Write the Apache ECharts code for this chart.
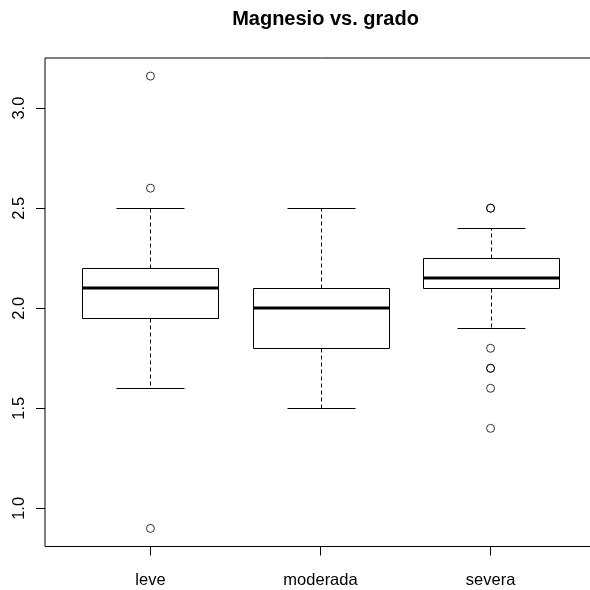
<!DOCTYPE html>
<html>
<head>
<meta charset="utf-8">
<style>
  html, body { margin: 0; padding: 0; background: #fff; overflow: hidden; }
  #chart { width: 600px; height: 590px; }
</style>
<script src="https://cdn.jsdelivr.net/npm/echarts@6/dist/echarts.min.js"></script>
</head>
<body>
<div id="chart"></div>
<script>
// Magnesium level by severity grade: five-number summaries and outliers
const categories = ['leve', 'moderada', 'severa'];
const whiskerLow = [1.6, 1.5, 1.9];
const q1 = [1.95, 1.8, 2.1];
const median = [2.1, 2.0, 2.15];
const q3 = [2.2, 2.1, 2.25];
const whiskerHigh = [2.5, 2.5, 2.4];
const outliers = [
  [3.16, 2.6, 0.9],
  [],
  [2.5, 2.5, 1.8, 1.7, 1.7, 1.6, 1.4]
];
const yTicks = [1.0, 1.5, 2.0, 2.5, 3.0];
const xTicks = [1, 2, 3];

const boxWidth = 0.8;      // in category units
const stapleWidth = 0.4;

const boxData = categories.map((c, i) => [i + 1, whiskerLow[i], q1[i], median[i], q3[i], whiskerHigh[i]]);
const outlierData = [];
outliers.forEach((vals, i) => vals.forEach(v => outlierData.push([i + 1, v])));

const chart = echarts.init(document.getElementById('chart'), null, { renderer: 'canvas' });
const fontFamily = '"Liberation Sans", Arial, Helvetica, sans-serif';

function renderBox(params, api) {
  const x = api.value(0);
  const pLo = api.coord([x, api.value(1)]);
  const pQ1 = api.coord([x, api.value(2)]);
  const pMed = api.coord([x, api.value(3)]);
  const pQ3 = api.coord([x, api.value(4)]);
  const pHi = api.coord([x, api.value(5)]);
  const half = api.size([boxWidth, 0])[0] / 2;
  const sHalf = api.size([stapleWidth, 0])[0] / 2;
  const cx = Math.round(pMed[0]) + 0.5;
  const r = v => Math.round(v) + 0.5;
  const solid = { stroke: '#000', lineWidth: 1, fill: null };
  const dashed = { stroke: '#000', lineWidth: 1, lineDash: [4, 3], fill: null };
  return {
    type: 'group',
    children: [
      { type: 'line', shape: { x1: cx, y1: r(pQ3[1]), x2: cx, y2: r(pHi[1]) }, style: dashed },
      { type: 'line', shape: { x1: cx, y1: r(pQ1[1]), x2: cx, y2: r(pLo[1]) }, style: dashed },
      { type: 'line', shape: { x1: cx - sHalf, y1: r(pHi[1]), x2: cx + sHalf, y2: r(pHi[1]) }, style: solid },
      { type: 'line', shape: { x1: cx - sHalf, y1: r(pLo[1]), x2: cx + sHalf, y2: r(pLo[1]) }, style: solid },
      { type: 'rect', shape: { x: r(cx - half), y: r(pQ3[1]), width: Math.round(2 * half), height: Math.round(pQ1[1] - pQ3[1]) }, style: { stroke: '#000', lineWidth: 1, fill: '#fff' } },
      { type: 'line', shape: { x1: r(cx - half), y1: Math.round(pMed[1]), x2: r(cx - half) + Math.round(2 * half), y2: Math.round(pMed[1]) }, style: { stroke: '#000', lineWidth: 3 } }
    ]
  };
}

chart.setOption({
  animation: false,
  backgroundColor: '#fff',
  title: {
    text: 'Magnesio vs. grado',
    left: 320.5,
    textAlign: 'center',
    top: 4,
    textStyle: { fontFamily, fontSize: 20, fontWeight: 'bold', color: '#000' }
  },
  grid: {
    left: 45,
    top: 58,
    width: 551,
    height: 488.5,
    show: true,
    borderColor: '#000',
    borderWidth: 1,
    backgroundColor: 'transparent'
  },
  xAxis: {
    type: 'value',
    min: 0.38,
    max: 3.62,
    axisLine: { show: false },
    splitLine: { show: false },
    axisTick: { show: true, customValues: xTicks, length: 9, lineStyle: { color: '#000' } },
    axisLabel: {
      customValues: xTicks,
      margin: 25,
      fontFamily, fontSize: 16.5, color: '#000',
      formatter: v => categories[Math.round(v) - 1] || ''
    }
  },
  yAxis: {
    type: 'value',
    min: 0.8096,
    max: 3.2504,
    axisLine: { show: false },
    splitLine: { show: false },
    axisTick: { show: true, customValues: yTicks, length: 9, lineStyle: { color: '#000' } },
    axisLabel: {
      customValues: yTicks,
      rotate: 90,
      margin: 17,
      fontFamily, fontSize: 16.5, color: '#000',
      formatter: v => v.toFixed(1)
    }
  },
  series: [
    {
      type: 'custom',
      renderItem: renderBox,
      encode: { x: 0, y: [1, 2, 3, 4, 5] },
      data: boxData,
      clip: false,
      z: 2
    },
    {
      type: 'scatter',
      data: outlierData,
      symbol: 'circle',
      symbolSize: 8,
      itemStyle: { color: 'transparent', borderColor: '#000', borderWidth: 1 },
      z: 3
    }
  ]
});
</script>
</body>
</html>
